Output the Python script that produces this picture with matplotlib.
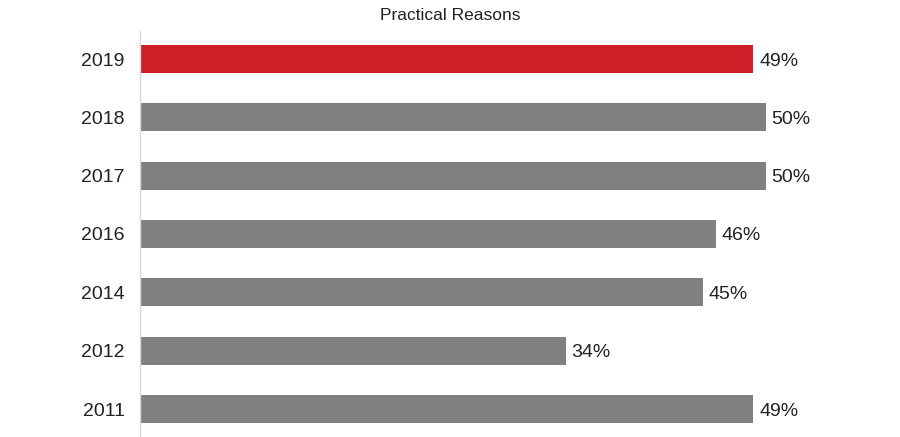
import matplotlib
matplotlib.use("Agg")
import matplotlib.pyplot as plt
import numpy as np

plt.rcParams['font.family'] = ['Liberation Sans', 'DejaVu Sans']

years = ['2019', '2018', '2017', '2016', '2014', '2012', '2011']
values = [49, 50, 50, 46, 45, 34, 49]
colors = ['#CF2029'] + ['#808080'] * 6

fig = plt.figure(figsize=(9, 4.37), dpi=100)
ax = fig.add_axes([140 / 900, 0, 760 / 900, 406 / 437])

y = np.arange(len(years))
bars = ax.barh(y, values, height=0.48, color=colors)
for yi, v in zip(y, values):
    ax.annotate(f'{v}%', (v, yi), xytext=(4, 0), textcoords='offset points',
                ha='left', va='center_baseline', fontsize=14, color='#222222')

ax.set_xlim(0, 760 / 12.52)
ax.set_ylim(len(years) - 0.52, -0.48)
ax.set_yticks(y)
ax.set_yticklabels(years, fontsize=14, color='#222222', va='center_baseline')
ax.tick_params(axis='y', length=0, pad=11)
ax.set_xticks([])

for s in ['top', 'right', 'bottom']:
    ax.spines[s].set_visible(False)
ax.spines['left'].set_color('#d9d9d9')
ax.spines['left'].set_linewidth(1)

fig.text(0.5, 1 - 15 / 437, 'Practical Reasons', ha='center', va='center', fontsize=12.5, color='#222222')

fig.savefig('out.png', dpi=100)
